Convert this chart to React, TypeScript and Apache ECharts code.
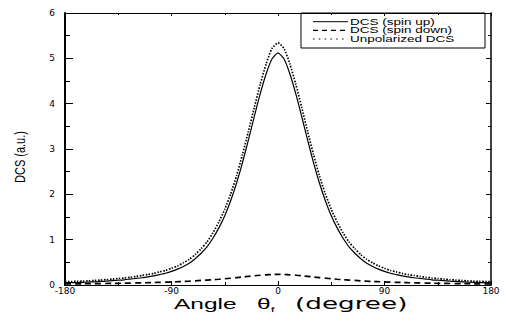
import React, { useEffect, useRef } from "react";
import * as echarts from "echarts";

// Scattering angle (degree)
const angles = [
  -180, -175, -170, -165, -160, -155, -150, -145, -140, -135, -130, -125,
  -120, -115, -110, -105, -100, -95, -90, -85, -80, -75, -70, -65,
  -60, -55, -50, -45, -40, -35, -30, -25, -20, -15, -10, -5,
  0,
  5, 10, 15, 20, 25, 30, 35, 40, 45, 50, 55, 60,
  65, 70, 75, 80, 85, 90, 95, 100, 105, 110, 115, 120,
  125, 130, 135, 140, 145, 150, 155, 160, 165, 170, 175, 180,
];

// DCS (spin up) — solid
const spinUp = [
  0.05, 0.051, 0.054, 0.058, 0.064, 0.07, 0.078, 0.085, 0.095, 0.105, 0.115, 0.13,
  0.145, 0.16, 0.18, 0.2, 0.23, 0.26, 0.3, 0.35, 0.41, 0.48, 0.58, 0.7,
  0.84, 1.03, 1.26, 1.53, 1.86, 2.25, 2.7, 3.2, 3.72, 4.22, 4.66, 4.99,
  5.12,
  4.99, 4.66, 4.22, 3.72, 3.2, 2.7, 2.25, 1.86, 1.53, 1.26, 1.03, 0.84,
  0.7, 0.58, 0.48, 0.41, 0.35, 0.3, 0.26, 0.23, 0.2, 0.18, 0.16, 0.145,
  0.13, 0.115, 0.105, 0.095, 0.085, 0.078, 0.07, 0.064, 0.058, 0.054, 0.051, 0.05,
];

// DCS (spin down) — dashed
const spinDown = [
  0.025, 0.025, 0.026, 0.027, 0.028, 0.03, 0.031, 0.033, 0.035, 0.037, 0.04, 0.042,
  0.045, 0.048, 0.051, 0.055, 0.059, 0.063, 0.068, 0.073, 0.079, 0.085, 0.092, 0.1,
  0.108, 0.117, 0.127, 0.138, 0.15, 0.163, 0.176, 0.19, 0.203, 0.215, 0.225, 0.232,
  0.235,
  0.232, 0.225, 0.215, 0.203, 0.19, 0.176, 0.163, 0.15, 0.138, 0.127, 0.117, 0.108,
  0.1, 0.092, 0.085, 0.079, 0.073, 0.068, 0.063, 0.059, 0.055, 0.051, 0.048, 0.045,
  0.042, 0.04, 0.037, 0.035, 0.033, 0.031, 0.03, 0.028, 0.027, 0.026, 0.025, 0.025,
];

// Unpolarized DCS — dotted
const unpolarized = [
  0.075, 0.076, 0.08, 0.085, 0.092, 0.1, 0.109, 0.118, 0.13, 0.142, 0.155, 0.17,
  0.19, 0.21, 0.23, 0.255, 0.29, 0.32, 0.37, 0.42, 0.49, 0.565, 0.67, 0.8,
  0.95, 1.15, 1.39, 1.67, 2.01, 2.41, 2.88, 3.39, 3.92, 4.43, 4.88, 5.22,
  5.34,
  5.22, 4.88, 4.43, 3.92, 3.39, 2.88, 2.41, 2.01, 1.67, 1.39, 1.15, 0.95,
  0.8, 0.67, 0.565, 0.49, 0.42, 0.37, 0.32, 0.29, 0.255, 0.23, 0.21, 0.19,
  0.17, 0.155, 0.142, 0.13, 0.118, 0.109, 0.1, 0.092, 0.085, 0.08, 0.076, 0.075,
];

const seriesNames = ["DCS (spin up)", "DCS (spin down)", "Unpolarized DCS"];
const xTitle = "Angle θf  (degree)";
const yTitle = "DCS (a.u.)";

const TICK_FONT = "DejaVu Sans";
const TEXT_FONT = "Liberation Sans, Arial, sans-serif";

export default function App() {
  const ref = useRef<HTMLDivElement>(null);

  useEffect(() => {
    if (!ref.current) return;
    const chart = echarts.init(ref.current, undefined, { renderer: "svg" });

    const pairs = (vals: number[]) => angles.map((a, i) => [a, vals[i]]);

    const xCommon = {
      type: "value" as const,
      min: -180,
      max: 180,
      interval: 90,
      splitLine: { show: false },
    };
    const yCommon = {
      type: "value" as const,
      min: 0,
      max: 6,
      interval: 1,
      splitLine: { show: false },
    };

    const legendText = (i: number, y: number) => ({
      type: "text",
      x: 350,
      y,
      scaleX: 1.5,
      style: {
        text: seriesNames[i],
        fill: "#000",
        font: `9px ${TEXT_FONT}`,
        verticalAlign: "middle",
        align: "left",
      },
    });

    const option: any = {
      animation: false,
      backgroundColor: "#fff",
      grid: { left: 65, right: 15, top: 13, bottom: 37 },
      xAxis: [
        {
          ...xCommon,
          position: "bottom",
          axisLine: { onZero: false, lineStyle: { color: "#000", width: 1 } },
          axisTick: { inside: true, length: 4, lineStyle: { color: "#000" } },
          minorTick: { show: true, splitNumber: 2, length: 3, lineStyle: { color: "#000" } },
          axisLabel: { color: "#000", fontSize: 9, fontFamily: TICK_FONT, margin: 1 },
        },
        {
          ...xCommon,
          position: "top",
          axisLine: { onZero: false, lineStyle: { color: "#000", width: 1 } },
          axisTick: { inside: true, length: 3, lineStyle: { color: "#000" } },
          minorTick: { show: true, splitNumber: 2, length: 2, lineStyle: { color: "#000" } },
          axisLabel: { show: false },
        },
      ],
      yAxis: [
        {
          ...yCommon,
          position: "left",
          axisLine: { onZero: false, lineStyle: { color: "#000", width: 2 } },
          axisTick: { inside: true, length: 8, lineStyle: { color: "#000" } },
          minorTick: { show: true, splitNumber: 2, length: 5, lineStyle: { color: "#000" } },
          axisLabel: { color: "#000", fontSize: 9, fontFamily: TICK_FONT, margin: 10 },
        },
        {
          ...yCommon,
          position: "right",
          axisLine: { onZero: false, lineStyle: { color: "#000", width: 1.5 } },
          axisTick: { inside: true, length: 5, lineStyle: { color: "#000" } },
          minorTick: { show: true, splitNumber: 2, length: 3, lineStyle: { color: "#000" } },
          axisLabel: { show: false },
        },
      ],
      series: [
        {
          name: seriesNames[0],
          type: "line",
          data: pairs(spinUp),
          smooth: 0.2,
          symbol: "none",
          lineStyle: { color: "#000", width: 1.2, type: "solid" },
        },
        {
          name: seriesNames[1],
          type: "line",
          data: pairs(spinDown),
          smooth: 0.2,
          symbol: "none",
          lineStyle: { color: "#000", width: 1.7, type: [6, 4] },
        },
        {
          name: seriesNames[2],
          type: "line",
          data: pairs(unpolarized),
          smooth: 0.2,
          symbol: "none",
          lineStyle: { color: "#000", width: 1.7, type: [1.5, 1.5] },
        },
      ],
      graphic: [
        // legend box
        {
          type: "group",
          z: 100,
          children: [
            {
              type: "rect",
              shape: { x: 301, y: 13, width: 184, height: 35 },
              style: { fill: "#fff", stroke: "#000", lineWidth: 1 },
            },
            {
              type: "line",
              shape: { x1: 313, y1: 21.7, x2: 348, y2: 21.7 },
              style: { stroke: "#000", lineWidth: 1 },
            },
            {
              type: "line",
              shape: { x1: 313, y1: 30.3, x2: 348, y2: 30.3 },
              style: { stroke: "#000", lineWidth: 1.2, lineDash: [5, 4] },
            },
            {
              type: "line",
              shape: { x1: 313, y1: 39, x2: 348, y2: 39 },
              style: { stroke: "#000", lineWidth: 1.2, lineDash: [1.5, 4.3] },
            },
            legendText(0, 21.7),
            legendText(1, 30.3),
            legendText(2, 39),
          ],
        },
        // x axis title
        {
          type: "text",
          x: 174,
          y: 304,
          scaleX: 1.75,
          style: {
            text: "{a|Angle   θ}{s|f}{a|   }{b|(degree)}",
            verticalAlign: "middle",
            align: "left",
            fill: "#000",
            rich: {
              a: { fontSize: 14, fontFamily: TEXT_FONT, fill: "#000", lineHeight: 16 },
              b: { fontSize: 15, fontFamily: TICK_FONT, fill: "#000", lineHeight: 16 },
              s: { fontSize: 8, fontFamily: TEXT_FONT, fill: "#000", lineHeight: 10, padding: [10, 0, 0, 0] },
            },
          },
        },
        // y axis title
        {
          type: "text",
          x: 21,
          y: 157,
          rotation: Math.PI / 2,
          scaleY: 1.25,
          style: {
            text: yTitle,
            fill: "#000",
            font: `11px ${TEXT_FONT}`,
            align: "center",
            verticalAlign: "middle",
          },
        },
      ],
    };

    chart.setOption(option);
    return () => chart.dispose();
  }, []);

  return (
    <div
      ref={ref}
      style={{ position: "absolute", left: 0, top: 0, width: 506, height: 322 }}
      aria-label={`${xTitle} / ${yTitle}`}
    />
  );
}
